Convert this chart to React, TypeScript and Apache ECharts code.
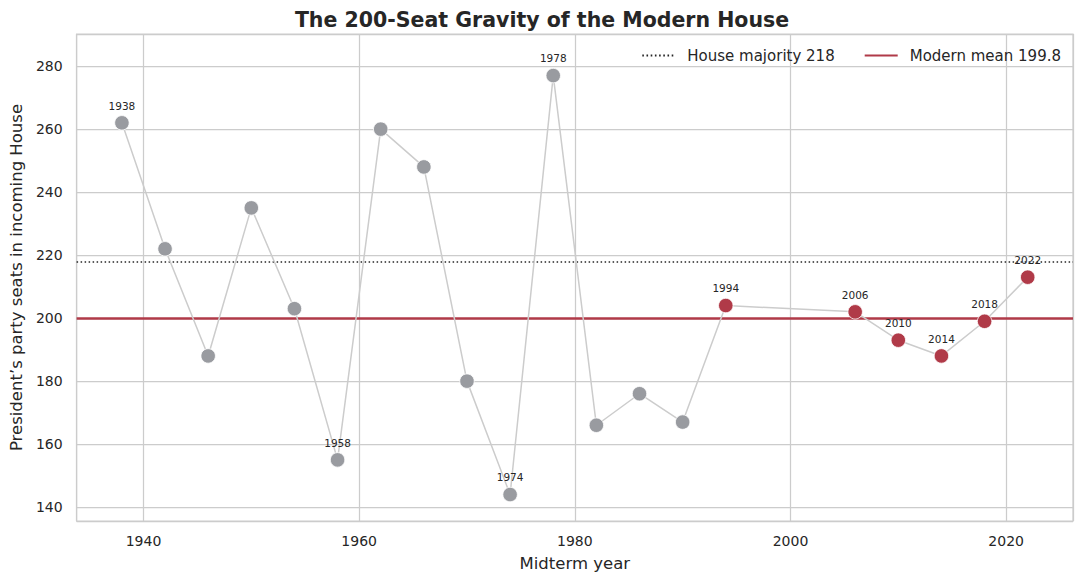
import React, { useEffect, useRef } from "react";
import * as echarts from "echarts";

// midterm years and the president's party seat count in the incoming House
const years = [
  1938, 1942, 1946, 1950, 1954, 1958, 1962, 1966, 1970, 1974,
  1978, 1982, 1986, 1990, 1994, 2006, 2010, 2014, 2018, 2022,
];
const seats = [
  262, 222, 188, 235, 203, 155, 260, 248, 180, 144,
  277, 166, 176, 167, 204, 202, 193, 188, 199, 213,
];
const labeledYears = [1938, 1958, 1974, 1978, 1994, 2006, 2010, 2014, 2018, 2022];
const modernStart = 1994;
const houseMajority = 218;

const modernSeats = seats.filter((_, i) => years[i] >= modernStart);
const modernMean = modernSeats.reduce((a, b) => a + b, 0) / modernSeats.length;

const FONT = "DejaVu Sans, sans-serif";
const TEXT = "#262626";
const GRAY = "#999ba0";
const RED = "#b03a48";
const GRID = "#cccccc";

const App: React.FC = () => {
  const chartRef = useRef<HTMLDivElement>(null);

  useEffect(() => {
    document.body.style.margin = "0";
    if (!chartRef.current) return;
    const chart = echarts.init(chartRef.current, null, { renderer: "svg" });

    const tickLabel = {
      fontFamily: FONT,
      fontSize: 14,
      color: TEXT,
      showMinLabel: false,
      showMaxLabel: false,
      formatter: (v: number) => (v % 20 === 0 ? String(v) : ""),
    };

    const option = {
      animation: false,
      backgroundColor: "#ffffff",
      textStyle: { fontFamily: FONT, color: TEXT },
      title: {
        text: "The 200-Seat Gravity of the Modern House",
        left: "center",
        top: 4,
        textStyle: { fontFamily: FONT, fontSize: 20.5, fontWeight: "bold", color: TEXT },
      },
      legend: {
        right: 18,
        top: 43,
        itemWidth: 33,
        itemHeight: 12,
        itemGap: 29,
        data: [`House majority ${houseMajority}`, `Modern mean ${modernMean.toFixed(1)}`],
        textStyle: { fontFamily: FONT, fontSize: 15, color: TEXT, padding: [0, 0, 0, 7] },
      },
      grid: {
        left: 76,
        right: 11,
        top: 34,
        bottom: 63,
        show: true,
        borderColor: GRID,
        borderWidth: 1.25,
        containLabel: false,
      },
      xAxis: {
        type: "value",
        min: 1933.8,
        max: 2026.2,
        minInterval: 20,
        maxInterval: 20,
        name: "Midterm year",
        nameLocation: "middle",
        nameGap: 34,
        nameTextStyle: { fontFamily: FONT, fontSize: 16.5, color: TEXT },
        axisLine: { show: false },
        axisTick: { show: false },
        axisLabel: { ...tickLabel, margin: 13 },
        splitLine: { show: true, lineStyle: { color: GRID, width: 1.25 } },
      },
      yAxis: {
        type: "value",
        min: 135.6,
        max: 290.2,
        splitNumber: 8,
        minInterval: 20,
        maxInterval: 20,
        name: "President\u2019s party seats in incoming House",
        nameLocation: "middle",
        nameGap: 44,
        nameTextStyle: { fontFamily: FONT, fontSize: 16.5, color: TEXT },
        axisLine: { show: false },
        axisTick: { show: false },
        axisLabel: { ...tickLabel, margin: 14 },
        splitLine: { show: true, lineStyle: { color: GRID, width: 1.25 } },
      },
      series: [
        {
          name: `House majority ${houseMajority}`,
          type: "line",
          data: [],
          symbol: "none",
          lineStyle: { type: [1.6, 2.6], color: TEXT, width: 1.8 },
          itemStyle: { color: "transparent", borderWidth: 0 },
          markLine: {
            silent: true,
            symbol: "none",
            label: { show: false },
            lineStyle: { type: [1.5, 2.5], color: TEXT, width: 1.6 },
            data: [{ yAxis: houseMajority }],
          },
        },
        {
          name: `Modern mean ${modernMean.toFixed(1)}`,
          type: "line",
          data: [],
          symbol: "none",
          lineStyle: { type: "solid", color: RED, width: 2.5 },
          itemStyle: { color: "transparent", borderWidth: 0 },
          markLine: {
            silent: true,
            symbol: "none",
            label: { show: false },
            lineStyle: { type: "solid", color: RED, width: 2.5 },
            data: [{ yAxis: modernMean }],
          },
        },
        {
          name: "Seats",
          type: "line",
          z: 5,
          data: years.map((y, i) => [y, seats[i]]),
          symbol: "circle",
          symbolSize: 14.5,
          lineStyle: { color: GRID, width: 1.5 },
          itemStyle: {
            color: (p: any) => (p.value[0] >= modernStart ? RED : GRAY),
            borderColor: "#ffffff",
            borderWidth: 0.8,
          },
          label: {
            show: true,
            position: "top",
            distance: 4,
            fontFamily: FONT,
            fontSize: 10.5,
            color: TEXT,
            formatter: (p: any) => (labeledYears.includes(p.value[0]) ? String(p.value[0]) : ""),
          },
        },
      ],
    };

    chart.setOption(option);
    return () => chart.dispose();
  }, []);

  return <div ref={chartRef} style={{ width: 1084, height: 584 }} />;
};

export default App;
